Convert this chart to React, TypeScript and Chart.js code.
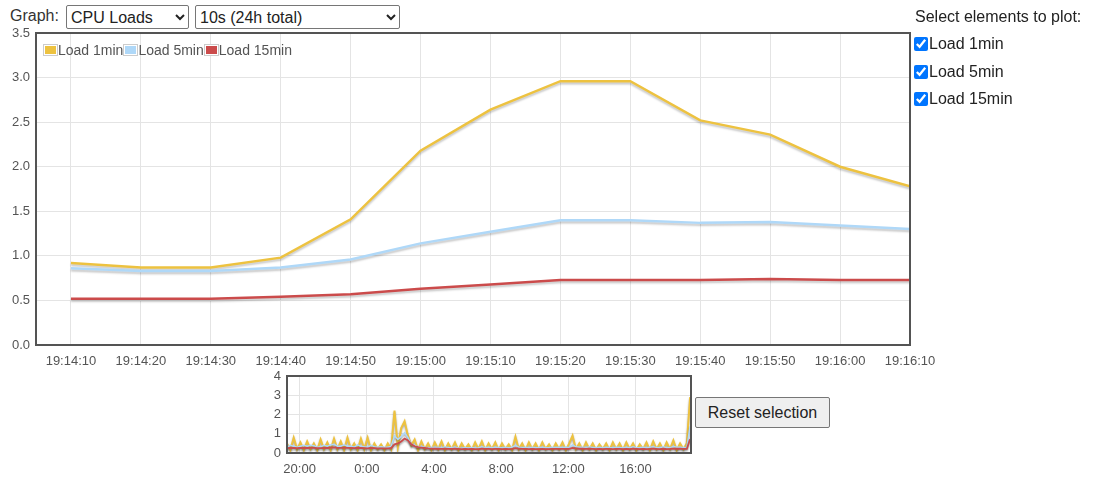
import React, { useEffect, useRef } from "react";
import { Chart, registerables } from "chart.js";

Chart.register(...registerables);

const FONT = '"Liberation Sans", Arial, sans-serif';

const seriesNames = ["Load 1min", "Load 5min", "Load 15min"];
const seriesColors = ["#edc240", "#afd8f8", "#cb4b4b"];

// Main chart
const mainStart = "19:14:05";
const mainTimes = [
  "19:14:10", "19:14:20", "19:14:30", "19:14:40", "19:14:50", "19:15:00", "19:15:10",
  "19:15:20", "19:15:30", "19:15:40", "19:15:50", "19:16:00", "19:16:10",
];
const mainLoad1 = [0.92, 0.87, 0.87, 0.98, 1.41, 2.18, 2.64, 2.96, 2.96, 2.52, 2.36, 2.0, 1.78];
const mainLoad5 = [0.86, 0.83, 0.83, 0.87, 0.96, 1.14, 1.27, 1.4, 1.4, 1.37, 1.38, 1.34, 1.3];
const mainLoad15 = [0.52, 0.52, 0.52, 0.54, 0.57, 0.63, 0.68, 0.73, 0.73, 0.73, 0.74, 0.73, 0.73];
const mainYTicks = [0, 0.5, 1, 1.5, 2, 2.5, 3, 3.5];

// Overview chart (24h, hours relative to midnight)
const overviewStartHour = -4.75;
const overviewStepHours = 0.2;
const overviewEndHour = 19.3;
const overviewXTicks = [-4, 0, 4, 8, 12, 16];
const overviewYTicks = [0, 1, 2, 3, 4];
const overviewLoad1 = [
  0.5, 0.15, 0.8, 0.2, 0.55, 0.15, 0.6, 0.2, 0.5, 0.15, 0.7, 0.2, 0.55, 0.15, 0.75, 0.2, 0.6, 0.15, 0.8, 0.2, 0.5, 0.15, 0.75, 0.2,
  0.8, 0.15, 0.5, 0.2, 0.45, 0.15, 0.5, 0.2,
  2.2, 0.3, 1.3, 1.65, 0.9, 0.4, 0.7,
  0.15, 0.6, 0.2, 0.5, 0.15, 0.55, 0.2, 0.6, 0.15, 0.5, 0.2, 0.55, 0.15, 0.5, 0.2, 0.45, 0.15, 0.55, 0.2, 0.6,
  0.15, 0.5, 0.2, 0.55, 0.15, 0.5, 0.2, 0.45, 0.15, 0.85, 0.2, 0.5, 0.15, 0.55, 0.2, 0.5, 0.15, 0.55, 0.2, 0.45,
  0.15, 0.5, 0.2, 0.55, 0.15, 0.5, 0.9, 0.2, 0.5, 0.15, 0.55, 0.2, 0.5, 0.15, 0.45, 0.2, 0.5, 0.15, 0.55, 0.2,
  0.5, 0.15, 0.55, 0.2, 0.5, 0.15, 0.45, 0.2, 0.55, 0.15, 0.6, 0.2, 0.5, 0.15, 0.55, 0.2, 0.65, 0.15, 0.5, 0.2,
  0.5, 2.9,
];
const overviewLoad5 = [
  0.3, 0.4, 0.35, 0.3, 0.35, 0.4, 0.35, 0.4, 0.38, 0.3, 0.32, 0.4, 0.35, 0.42, 0.45, 0.35, 0.35, 0.42, 0.35, 0.36, 0.3, 0.42, 0.35, 0.32,
  0.3, 0.4, 0.33, 0.3, 0.32, 0.3, 0.3, 0.35,
  0.9, 0.7, 0.85, 1.05, 0.8, 0.45, 0.4,
  0.3, 0.35, 0.3, 0.25, 0.3, 0.28, 0.3, 0.26, 0.32, 0.27, 0.28, 0.3, 0.26, 0.25, 0.28, 0.26, 0.28, 0.26, 0.27, 0.32,
  0.28, 0.3, 0.27, 0.3, 0.28, 0.27, 0.3, 0.27, 0.3, 0.4, 0.3, 0.27, 0.3, 0.27, 0.3, 0.27, 0.28, 0.3, 0.27, 0.28,
  0.3, 0.28, 0.3, 0.28, 0.3, 0.28, 0.42, 0.32, 0.3, 0.3, 0.28, 0.32, 0.28, 0.27, 0.3, 0.27, 0.3, 0.28, 0.27, 0.3,
  0.28, 0.27, 0.3, 0.27, 0.32, 0.27, 0.28, 0.3, 0.27, 0.3, 0.33, 0.28, 0.27, 0.32, 0.27, 0.28, 0.34, 0.3, 0.3, 0.28,
  0.3, 1.4,
];
const overviewLoad15 = [
  0.25, 0.27, 0.26, 0.25, 0.26, 0.27, 0.26, 0.27, 0.27, 0.25, 0.25, 0.27, 0.26, 0.28, 0.29, 0.27, 0.27, 0.28, 0.27, 0.27, 0.25, 0.27, 0.26, 0.25,
  0.24, 0.26, 0.25, 0.24, 0.24, 0.24, 0.24, 0.25,
  0.45, 0.5, 0.6, 0.75, 0.65, 0.45, 0.35,
  0.3, 0.28, 0.26, 0.24, 0.23, 0.22, 0.22, 0.21, 0.22, 0.21, 0.21, 0.22, 0.21, 0.2, 0.21, 0.2, 0.21, 0.2, 0.2, 0.22,
  0.21, 0.21, 0.2, 0.21, 0.21, 0.2, 0.21, 0.2, 0.21, 0.25, 0.23, 0.21, 0.21, 0.2, 0.21, 0.2, 0.2, 0.21, 0.2, 0.2,
  0.21, 0.21, 0.21, 0.21, 0.21, 0.21, 0.26, 0.24, 0.22, 0.22, 0.21, 0.22, 0.21, 0.2, 0.21, 0.2, 0.21, 0.21, 0.2, 0.21,
  0.21, 0.2, 0.21, 0.2, 0.22, 0.21, 0.2, 0.21, 0.2, 0.21, 0.23, 0.21, 0.2, 0.22, 0.2, 0.21, 0.23, 0.22, 0.22, 0.21,
  0.21, 0.73,
];

const toSec = (t: string) => {
  const [h, m, s] = t.split(":").map(Number);
  return h * 3600 + m * 60 + s;
};
const pad = (n: number) => String(n).padStart(2, "0");
const fmtSec = (v: number) => {
  const h = Math.floor(v / 3600);
  const m = Math.floor((v % 3600) / 60);
  const s = Math.round(v % 60);
  return `${h}:${pad(m)}:${pad(s)}`;
};
const fmtHour = (v: number) => `${(((Math.round(v) % 24) + 24) % 24)}:00`;

const framePlugin = {
  id: "frame",
  afterDraw(chart: any) {
    const { ctx, chartArea: a } = chart;
    ctx.save();
    ctx.strokeStyle = "#545454";
    ctx.lineWidth = 2;
    ctx.strokeRect(a.left, a.top, a.right - a.left, a.bottom - a.top);
    ctx.restore();
  },
};

const makeShadowPlugin = (alpha: number, offset: number) => ({
  id: "lineShadow",
  beforeDatasetsDraw(chart: any) {
    const ctx = chart.ctx;
    ctx.save();
    ctx.shadowColor = `rgba(0,0,0,${alpha})`;
    ctx.shadowBlur = 2;
    ctx.shadowOffsetX = 0;
    ctx.shadowOffsetY = offset;
  },
  afterDatasetsDraw(chart: any) {
    chart.ctx.restore();
  },
});

function fixAxis(size: number, vertical: boolean) {
  return (s: any) => {
    if (vertical) s.width = size;
    else s.height = size;
    s.paddingLeft = 0;
    s.paddingRight = 0;
    s.paddingTop = 0;
    s.paddingBottom = 0;
  };
}

function MainChart() {
  const ref = useRef<HTMLCanvasElement>(null);
  useEffect(() => {
    const xs = mainTimes.map(toSec);
    const series = [mainLoad1, mainLoad5, mainLoad15];
    const chart = new Chart(ref.current!, {
      type: "line",
      data: {
        datasets: series.map((vals, i) => ({
          label: seriesNames[i],
          data: vals.map((v, j) => ({ x: xs[j], y: v })),
          borderColor: seriesColors[i],
          backgroundColor: seriesColors[i],
          borderWidth: 2.5,
          pointRadius: 0,
          tension: 0,
          order: 2 - i,
        })),
      },
      options: {
        animation: false,
        responsive: false,
        events: [],
        layout: { padding: { left: 0, top: 13, right: 30, bottom: 0 } },
        plugins: { legend: { display: false }, tooltip: { enabled: false } },
        scales: {
          x: {
            type: "linear",
            min: toSec(mainStart),
            max: xs[xs.length - 1],
            afterBuildTicks: (s: any) => {
              s.ticks = xs.map((v) => ({ value: v }));
            },
            afterFit: fixAxis(30, false),
            ticks: {
              callback: (v: any) => fmtSec(Number(v)),
              font: { size: 13, family: FONT },
              color: "#545454",
              padding: 9,
              maxRotation: 0,
              autoSkip: false,
            },
            grid: { color: "#e4e4e4", drawTicks: false, lineWidth: 1 },
            border: { display: false },
          },
          y: {
            type: "linear",
            min: 0,
            max: 3.5,
            afterBuildTicks: (s: any) => {
              s.ticks = mainYTicks.map((v) => ({ value: v }));
            },
            afterFit: fixAxis(36, true),
            ticks: {
              callback: (v: any) => Number(v).toFixed(1),
              font: { size: 13, family: FONT },
              color: "#545454",
              padding: 6,
            },
            grid: { color: "#e4e4e4", drawTicks: false, lineWidth: 1 },
            border: { display: false },
          },
        },
      },
      plugins: [makeShadowPlugin(0.22, 2), framePlugin],
    });
    return () => chart.destroy();
  }, []);
  return (
    <canvas
      ref={ref}
      width={940}
      height={355}
      style={{ position: "absolute", left: 0, top: 20, width: 940, height: 355 }}
    />
  );
}

function OverviewChart() {
  const ref = useRef<HTMLCanvasElement>(null);
  useEffect(() => {
    const series = [overviewLoad1, overviewLoad5, overviewLoad15];
    const widths = [2, 1.5, 1.8];
    const chart = new Chart(ref.current!, {
      type: "line",
      data: {
        datasets: series.map((vals, i) => ({
          label: seriesNames[i],
          data: vals.map((v, j) => ({ x: overviewStartHour + j * overviewStepHours, y: v })),
          borderColor: seriesColors[i],
          backgroundColor: seriesColors[i],
          borderWidth: widths[i],
          pointRadius: 0,
          tension: 0,
          order: 2 - i,
        })),
      },
      options: {
        animation: false,
        responsive: false,
        events: [],
        layout: { padding: { left: 0, top: 8, right: 9, bottom: 0 } },
        plugins: { legend: { display: false }, tooltip: { enabled: false } },
        scales: {
          x: {
            type: "linear",
            min: overviewStartHour,
            max: overviewEndHour,
            afterBuildTicks: (s: any) => {
              s.ticks = overviewXTicks.map((v) => ({ value: v }));
            },
            afterFit: fixAxis(27, false),
            ticks: {
              callback: (v: any) => fmtHour(Number(v)),
              font: { size: 13, family: FONT },
              color: "#545454",
              padding: 9,
              maxRotation: 0,
              autoSkip: false,
            },
            grid: { color: "#e4e4e4", drawTicks: false, lineWidth: 1 },
            border: { display: false },
          },
          y: {
            type: "linear",
            min: 0,
            max: 4,
            afterBuildTicks: (s: any) => {
              s.ticks = overviewYTicks.map((v) => ({ value: v }));
            },
            afterFit: fixAxis(27, true),
            ticks: {
              callback: (v: any) => String(v),
              font: { size: 13, family: FONT },
              color: "#545454",
              padding: 6,
            },
            grid: { color: "#e4e4e4", drawTicks: false, lineWidth: 1 },
            border: { display: false },
          },
        },
      },
      plugins: [makeShadowPlugin(0.35, 1.5), framePlugin],
    });
    return () => chart.destroy();
  }, []);
  return (
    <canvas
      ref={ref}
      width={440}
      height={112}
      style={{ position: "absolute", left: 260, top: 368, width: 440, height: 112 }}
    />
  );
}

export default function App() {
  const selStyle: React.CSSProperties = {
    position: "absolute",
    top: 5,
    height: 24,
    fontSize: 16,
    fontFamily: FONT,
    color: "#222",
    background: "#fff",
    border: "1px solid #767676",
    borderRadius: 2,
  };
  return (
    <div
      style={{
        position: "fixed",
        left: 0,
        top: 0,
        width: 1100,
        height: 482,
        background: "#fff",
        fontFamily: FONT,
        overflow: "hidden",
      }}
    >
      <div style={{ position: "absolute", left: 10, top: 7, fontSize: 16, color: "#333", lineHeight: "18px" }}>
        Graph:
      </div>
      <select style={{ ...selStyle, left: 66, width: 123 }} defaultValue="cpu">
        <option value="cpu">CPU Loads</option>
      </select>
      <select style={{ ...selStyle, left: 195, width: 205 }} defaultValue="10s">
        <option value="10s">10s (24h total)</option>
      </select>

      <MainChart />

      <div
        style={{
          position: "absolute",
          left: 43,
          top: 43,
          display: "flex",
          alignItems: "center",
          fontSize: 14,
          color: "#545454",
          lineHeight: "14px",
        }}
      >
        {seriesNames.map((n, i) => (
          <React.Fragment key={n}>
            <div style={{ border: "1px solid #ccc", padding: 1, background: "#fff" }}>
              <div style={{ width: 11, height: 8, background: seriesColors[i] }} />
            </div>
            <span>{n}</span>
          </React.Fragment>
        ))}
      </div>

      <div style={{ position: "absolute", left: 915, top: 8, fontSize: 16, color: "#222", lineHeight: "18px" }}>
        Select elements to plot:
      </div>
      {seriesNames.map((n, i) => (
        <div
          key={n}
          style={{
            position: "absolute",
            left: 914,
            top: 36 + i * 27.5,
            display: "flex",
            alignItems: "center",
            fontSize: 16,
            color: "#222",
            lineHeight: "16px",
          }}
        >
          <input type="checkbox" defaultChecked style={{ margin: 0, width: 14, height: 14 }} />
          <span style={{ marginLeft: 1 }}>{n}</span>
        </div>
      ))}

      <OverviewChart />

      <button
        style={{
          position: "absolute",
          left: 695,
          top: 397,
          width: 135,
          height: 31,
          fontSize: 16,
          fontFamily: FONT,
          color: "#222",
          background: "#efefef",
          border: "1px solid #767676",
          borderRadius: 2,
          padding: "0 6px",
        }}
      >
        Reset selection
      </button>
    </div>
  );
}
